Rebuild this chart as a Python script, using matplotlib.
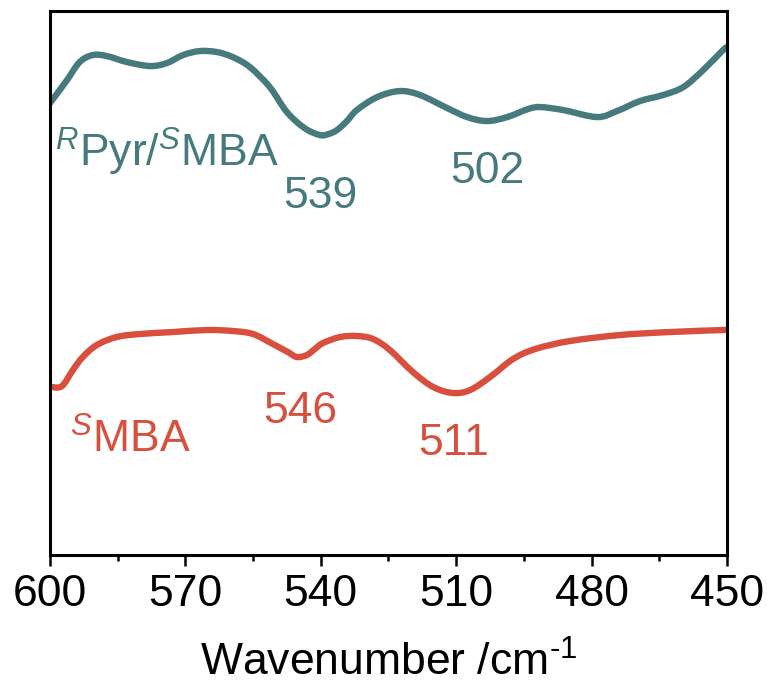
import matplotlib
matplotlib.use("Agg")
import matplotlib.pyplot as plt
from matplotlib import font_manager
from matplotlib.path import Path
from matplotlib.patches import PathPatch

# pick a narrow Arial-like face if present
names = {f.name for f in font_manager.fontManager.ttflist}
FONT = "Liberation Sans Narrow" if "Liberation Sans Narrow" in names else "Liberation Sans"
plt.rcParams["font.family"] = [FONT, "DejaVu Sans"]
plt.rcParams["mathtext.fontset"] = "custom"
plt.rcParams["mathtext.rm"] = FONT
plt.rcParams["mathtext.it"] = FONT + ":italic"

TEAL = "#467A7C"
RED = "#D94F3E"

# R-Pyr/S-MBA spectrum (wavenumber, arbitrary intensity)
wn_pyr = [600, 599.3, 596.2, 593.4, 590.5, 587.4, 582.9, 577.8, 574.1, 570.5, 566.8,
          563.0, 559.5, 555.7, 551.3, 547.5, 543.6, 540.2, 538.3, 536.4, 534.2,
          532.0, 527.5, 522.5, 518.0, 512.0, 507.6, 503.2, 498.7, 494.1, 491.4, 486.3,
          478.8, 474.4, 469.3, 464.2, 459.7, 455.3, 450.9, 450]
int_pyr = [452, 456, 475, 493, 500, 499, 493, 489, 492, 500, 504,
           503, 498, 488, 468, 443, 427, 420, 421, 425, 434,
           445, 458, 464, 460, 447, 438, 434, 438, 446, 448, 445,
           438, 444, 454, 460, 468, 485, 505, 508]

# S-MBA spectrum
wn_mba = [600, 599.6, 597.3, 594.9, 592.7, 589.6, 585.2, 580.1, 572.7, 565.2, 559.5,
          555.0, 550.6, 547.3, 545.3, 543.1, 541.3, 539.5, 535.7, 532.0, 528.4,
          524.7, 519.6, 515.1, 510.7, 506.9, 502.5, 497.4, 492.5, 484.8, 473.7,
          462.6, 450.9, 450]
int_mba = [170, 168, 169, 185, 198, 210, 218, 221, 223, 225, 224,
           221, 211, 203, 198, 200, 206, 212, 218, 219, 216,
           205, 183, 168, 162, 165, 178, 196, 206, 214, 220,
           223, 225, 225]

# annotations: text, x (wavenumber), y, colour, alignment
labels = [
    (r"$^{R}$Pyr/$^{S}$MBA", 598.9, 388, TEAL, "left"),
    ("539", 540.0, 347, TEAL, "center"),
    ("502", 503.2, 372, TEAL, "center"),
    (r"$^{S}$MBA", 595.6, 102, RED, "left"),
    ("546", 544.6, 132, RED, "center"),
    ("511", 510.5, 100, RED, "center"),
]


def smooth_path(xs, ys):
    # Catmull-Rom through the read points, drawn as cubic Bezier segments
    pts = list(zip(xs, ys))
    verts = [pts[0]]
    codes = [Path.MOVETO]
    n = len(pts)
    for i in range(n - 1):
        p0 = pts[max(i - 1, 0)]
        p1 = pts[i]
        p2 = pts[i + 1]
        p3 = pts[min(i + 2, n - 1)]
        c1 = (p1[0] + (p2[0] - p0[0]) / 6, p1[1] + (p2[1] - p0[1]) / 6)
        c2 = (p2[0] - (p3[0] - p1[0]) / 6, p2[1] - (p3[1] - p1[1]) / 6)
        verts += [c1, c2, p2]
        codes += [Path.CURVE4] * 3
    return Path(verts, codes)


fig = plt.figure(figsize=(7.67, 6.92), dpi=100)
ax = fig.add_axes([0.065, 0.198, 0.883, 0.786])

for xs, ys, c in [(wn_pyr, int_pyr, TEAL), (wn_mba, int_mba, RED)]:
    ax.add_patch(PathPatch(smooth_path(xs, ys), facecolor="none", edgecolor=c,
                           lw=4.6, joinstyle="round", capstyle="butt"))

for txt, x, y, c, ha in labels:
    ax.text(x, y, txt, color=c, fontsize=32, ha=ha, va="baseline")

ax.set_xlim(600, 450)
ax.set_ylim(0, 544)
ax.set_xticks([600, 570, 540, 510, 480, 450])
ax.set_xticks([585, 555, 525, 495, 465], minor=True)
ax.set_yticks([])
for s in ax.spines.values():
    s.set_linewidth(2.2)
    s.set_zorder(3)
ax.tick_params(axis="x", which="major", direction="out", length=8, width=1.8,
               labelsize=32, pad=6)
ax.tick_params(axis="x", which="minor", direction="out", length=4.5, width=1.8)
ax.set_xlabel(r"Wavenumber /cm$^{\text{-1}}$", fontsize=32, labelpad=19)

fig.savefig("out.png", dpi=100)
